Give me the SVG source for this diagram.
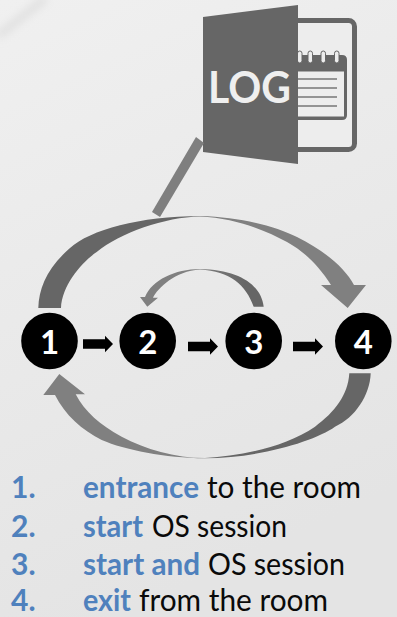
<svg xmlns="http://www.w3.org/2000/svg" width="397" height="617" viewBox="0 0 397 617">
<style>
text{font-family:Lato,"Open Sans","Liberation Sans",sans-serif}
.num{font-weight:700;font-size:33px;fill:#fff;text-anchor:middle}
.li{font-size:30px;fill:#0a0a0a}
.b{font-weight:700;fill:#4f81bd}
.dark{fill:#666}
.small{fill:#000}
.ring{fill:#ededed;stroke:#666;stroke-width:1}
</style>
<defs>
<linearGradient id="bg" x1="0" y1="0" x2="0.3" y2="1"><stop offset="0" stop-color="#f0f0f0"/><stop offset=".4" stop-color="#ebebeb"/><stop offset="1" stop-color="#e4e4e4"/></linearGradient>
<filter id="soft" x="-20%" y="-50%" width="140%" height="200%"><feGaussianBlur stdDeviation="4"/></filter>
<linearGradient id="g1" gradientUnits="userSpaceOnUse" x1="38" y1="0" x2="366" y2="0"><stop offset="0" stop-color="#666"/><stop offset=".42" stop-color="#666"/><stop offset=".56" stop-color="#808080"/><stop offset="1" stop-color="#808080"/></linearGradient>
<linearGradient id="g2" gradientUnits="userSpaceOnUse" x1="139" y1="0" x2="264" y2="0"><stop offset="0" stop-color="#808080"/><stop offset=".45" stop-color="#808080"/><stop offset=".85" stop-color="#666"/><stop offset="1" stop-color="#666"/></linearGradient>
<linearGradient id="g3" gradientUnits="userSpaceOnUse" x1="43" y1="0" x2="371" y2="0"><stop offset="0" stop-color="#808080"/><stop offset=".42" stop-color="#808080"/><stop offset=".56" stop-color="#666"/><stop offset="1" stop-color="#666"/></linearGradient>
<path id="ar" d="M0,-4.700H22V-8.300L30,0L22,8.300V4.700H0Z"/>
</defs>
<rect id="background" width="397" height="617" fill="url(#bg)"/>
<path d="M-2,36L46,-2" stroke="#dedede" stroke-width="7" filter="url(#soft)"/>
<g id="log-icon">
<rect x="280" y="20.500" width="74.500" height="129" rx="6" fill="#ededed" stroke="#666" stroke-width="5"/>
<path class="dark" d="M290,55H342Q347,55 347,60V115Q347,120 342,120H290Z"/>
<rect x="298" y="71.500" width="46" height="45" fill="#ededed"/>
<rect class="ring" x="297.500" y="51" width="4.500" height="12" rx="2.250"/>
<rect class="ring" x="308" y="51" width="4.500" height="12" rx="2.250"/>
<rect class="ring" x="321" y="51" width="4.500" height="12" rx="2.250"/>
<rect class="ring" x="334.500" y="51" width="4.500" height="12" rx="2.250"/>
<path d="M298,79H337M298,88H337M298,97H337M298,106H337" stroke="#777" stroke-width="1.500"/>
<path class="dark" d="M203,17L298,5V164L203,152Z"/>
<text x="208" y="103" font-size="43" font-weight="700" fill="#efefef" textLength="83" lengthAdjust="spacingAndGlyphs">LOG</text>
</g>
<g id="connectors">
<path id="log-link" d="M196,137L204,143L160,217L152,212Z" fill="#7f7f7f"/>
<path id="arc-1-4" fill="url(#g1)" d="M38.300,308C39,288 47,268 70,248C90,230 140,216 200,216C240,217 275,226 297,237C325,251 345,268 354,285H366L347.700,308L321,285H331C318,265 305,252 287,242C265,230 235,218 200,216.500C165,217 120,233 96.700,252C82,262 62,285 61,308Z"/>
<path id="arc-3-2" fill="url(#g2)" d="M263.700,306.700C261,285 240,270 200,269C175,269 152,280 145,297H140L147.300,306.700L158,297.700H153C158,288 175,271 200,269.500C230,271 246,285 253.700,306.700Z"/>
<path id="arc-4-1" fill="url(#g3)" d="M370.700,373.300C370,395 355,418 335,426.700C315,441 260,458 205,458.300C165,458 125,450 101.700,440C82,430 65,415 55,395H43.300L59.300,374L85,394.300H75.700C85,412 100,425 121.700,436.700C145,449 175,458 205,458C240,456.500 285,447 315,426.700C335,412 348,395 349.300,373.300Z"/>
<use id="arrow-1-2" href="#ar" class="small" x="83" y="344"/>
<use id="arrow-2-3" href="#ar" class="small" x="188" y="346.500"/>
<use id="arrow-3-4" href="#ar" class="small" x="293" y="346.500"/>
</g>
<g id="node-1"><circle cx="49.500" cy="341" r="28.300"/><text class="num" x="49.500" y="354">1</text></g>
<g id="node-2"><circle cx="147.700" cy="341" r="28.300"/><text class="num" x="147.700" y="354">2</text></g>
<g id="node-3"><circle cx="253.700" cy="341" r="28.300"/><text class="num" x="253.700" y="354">3</text></g>
<g id="node-4"><circle cx="363.300" cy="341" r="28.300"/><text class="num" x="363.300" y="354">4</text></g>
<g id="legend">
<text class="li" y="498"><tspan class="b" x="11">1.</tspan><tspan class="b" x="83" textLength="116" lengthAdjust="spacingAndGlyphs">entrance</tspan><tspan x="207" textLength="154" lengthAdjust="spacingAndGlyphs">to the room</tspan></text>
<text class="li" y="537"><tspan class="b" x="11">2.</tspan><tspan class="b" x="83" textLength="60" lengthAdjust="spacingAndGlyphs">start</tspan><tspan x="152" textLength="135" lengthAdjust="spacingAndGlyphs">OS session</tspan></text>
<text class="li" y="575"><tspan class="b" x="11">3.</tspan><tspan class="b" x="83" textLength="117" lengthAdjust="spacingAndGlyphs">start and</tspan><tspan x="208" textLength="137" lengthAdjust="spacingAndGlyphs">OS session</tspan></text>
<text class="li" y="611"><tspan class="b" x="11">4.</tspan><tspan class="b" x="83" textLength="48" lengthAdjust="spacingAndGlyphs">exit</tspan><tspan x="139" textLength="189" lengthAdjust="spacingAndGlyphs">from the room</tspan></text>
</g>
</svg>
